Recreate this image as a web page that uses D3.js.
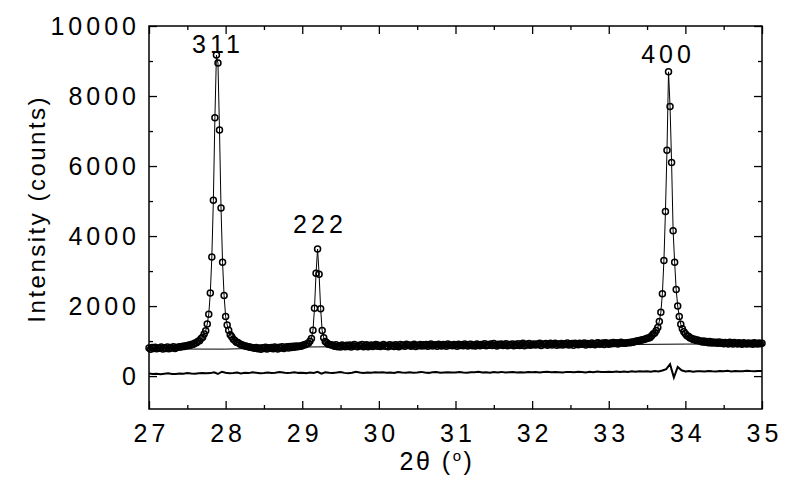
<!DOCTYPE html>
<html><head><meta charset="utf-8">
<script src="https://cdn.jsdelivr.net/npm/d3@7"></script>
<style>
body{margin:0;background:#fff}
text{font-family:"Liberation Sans",Arial,Helvetica,sans-serif;fill:#000}
</style>
</head><body>
<svg id="chart" width="787" height="481"></svg>
<script>
// ---- data ----
const scanStart = 27.0;     // 2θ of first observed point
const scanStep = 0.02;      // 2θ step of the scan
const observedCounts = [
 800, 770, 815, 785, 825, 778, 805, 795, 830, 775,
 812, 790, 828, 780, 818, 800, 835, 788, 815, 826,
 840, 832, 852, 845, 866, 865, 885, 880, 912, 910,
 945, 950, 995, 1010, 1075, 1110, 1205, 1295, 1490, 1770,
 2370, 3400, 5020, 7380, 9170, 8940, 7030, 4800, 3250, 2300,
 1700, 1460, 1310, 1180, 1125, 1050, 1020, 970, 960, 925,
 905, 890, 870, 860, 848, 835, 822, 815, 808, 798,
 820, 780, 805, 770, 812, 790, 825, 775, 808, 795,
 815, 782, 830, 800, 775, 822, 805, 838, 790, 818,
 835, 800, 845, 815, 850, 825, 858, 838, 862, 850,
 870, 895, 892, 925, 940, 998, 1075, 1310, 1940, 2940,
 3630, 2910, 1925, 1300, 1095, 985, 950, 912, 905, 885,
 880, 850, 895, 840, 870, 828, 885, 860, 835, 878,
 845, 890, 832, 868, 900, 850, 838, 882, 858, 905,
 840, 875, 898, 836, 866, 888, 845, 872, 902, 850,
 880, 842, 868, 905, 855, 876, 838, 895, 862, 884,
 848, 892, 870, 838, 904, 866, 885, 850, 912, 872,
 890, 852, 878, 908, 845, 883, 870, 900, 856, 892,
 868, 905, 850, 888, 915, 862, 880, 898, 852, 910,
 876, 860, 902, 885, 850, 918, 872, 890, 864, 905,
 888, 855, 910, 875, 898, 865, 920, 882, 858, 900,
 912, 870, 890, 862, 918, 885, 868, 905, 880, 922,
 865, 900, 884, 915, 872, 930, 890, 862, 908, 886,
 918, 875, 898, 925, 870, 905, 888, 920, 868, 910,
 880, 925, 872, 902, 935, 868, 912, 890, 928, 878,
 905, 920, 885, 915, 895, 938, 872, 918, 900, 930,
 878, 912, 935, 890, 920, 940, 882, 915, 898, 932,
 885, 922, 905, 945, 890, 912, 930, 880, 938, 915,
 895, 935, 910, 925, 948, 888, 930, 915, 905, 942,
 920, 895, 938, 950, 910, 925, 945, 900, 952, 928,
 910, 945, 925, 958, 930, 955, 920, 948, 965, 940,
 945, 938, 952, 960, 955, 972, 968, 985, 995, 1010,
 1018, 1025, 1040, 1048, 1062, 1078, 1090, 1105, 1150, 1200,
 1230, 1300, 1390, 1560, 1820, 2350, 3300, 4700, 6450, 8690,
 7700, 6100, 4150, 3250, 2470, 2000, 1700, 1480, 1350, 1265,
 1210, 1150, 1135, 1090, 1082, 1048, 1050, 1020, 1028, 1000,
 1005, 975, 1000, 965, 990, 955, 985, 948, 975, 945,
 968, 935, 972, 940, 962, 925, 958, 948, 920, 965,
 948, 920, 960, 935, 915, 955, 930, 912, 950, 928,
 915, 948, 925, 940, 910, 952, 928, 918, 945, 925,
 935
];
const residualStart = 27.0;
const residualStep = 0.05;
const residualCounts = [
 75, 60, 70, 55, 68, 80, 62, 58, 75, 70, 85, 72, 65, 80, 90, 78, 85, 110, 60, 125,
 95, 80, 88, 100, 75, 92, 85, 110, 95, 80, 90, 105, 88, 96, 115, 100, 85, 95, 108, 92,
 98, 85, 105, 90, 120, 70, 110, 95, 88, 100, 115, 92, 80, 98, 125, 105, 90, 100, 95, 108,
 100, 112, 95, 105, 90, 118, 102, 95, 110, 98, 105, 120, 100, 92, 108, 115, 98, 105, 112, 100,
 105, 118, 100, 95, 112, 108, 125, 102, 110, 98, 115, 105, 120, 100, 110, 118, 105, 112, 100, 115,
 110, 120, 105, 115, 125, 108, 118, 112, 100, 120, 115, 110, 125, 118, 105, 122, 112, 128, 115, 120,
 125, 118, 130, 115, 128, 120, 135, 125, 140, 130, 138, 125, 145, 130, 160, 200, 340, -40, 260, 165,
 130, 145, 125, 138, 140, 130, 145, 135, 128, 142, 138, 150, 132, 145, 140, 135, 150, 142, 138, 148,
 145
];
const backgroundTheta = [27, 28, 29, 30, 31, 32, 33, 34, 35];
const backgroundCounts = [775, 770, 830, 850, 865, 880, 898, 914, 925];
const xTickValues = [27, 28, 29, 30, 31, 32, 33, 34, 35];
const xMinorTicks = [27.5, 28.5, 29.5, 30.5, 31.5, 32.5, 33.5, 34.5];
const yTickValues = [0, 2000, 4000, 6000, 8000, 10000];
const yMinorTicks = [1000, 3000, 5000, 7000, 9000];
const peakLabels = ["311", "222", "400"];
const peakLabelTheta = [27.874, 29.205, 33.747];
const peakLabelCounts = [9230, 4086, 8943];
const xTitle = "2θ (";
const yTitle = "Intensity (counts)";

// ---- drawing ----
const svg = d3.select("#chart");
const L = 149, R = 762, T = 26, B = 409;
const x = d3.scaleLinear().domain([27, 35]).range([L, R]);
const y = d3.scaleLinear().domain([-940, 10000]).range([B, T]);

const obs = observedCounts.map((c, i) => ({t: scanStart + i * scanStep, c}));
const res = residualCounts.map((c, i) => ({t: residualStart + i * residualStep, c}));
const bg = backgroundTheta.map((t, i) => ({t, c: backgroundCounts[i]}));

const line = d3.line().x(d => x(d.t)).y(d => y(d.c));

svg.append("path").datum(bg).attr("d", line)
  .attr("fill", "none").attr("stroke", "#000").attr("stroke-width", 1);
svg.append("path").datum(obs).attr("d", line)
  .attr("fill", "none").attr("stroke", "#000").attr("stroke-width", 1);
svg.append("g").selectAll("circle").data(obs).join("circle")
  .attr("cx", d => x(d.t)).attr("cy", d => y(d.c)).attr("r", 3)
  .attr("fill", "none").attr("stroke", "#000").attr("stroke-width", 1.5);
svg.append("path").datum(res).attr("d", line)
  .attr("fill", "none").attr("stroke", "#000").attr("stroke-width", 2);

// frame
svg.append("rect").attr("x", L).attr("y", T).attr("width", R - L).attr("height", B - T)
  .attr("fill", "none").attr("stroke", "#000").attr("stroke-width", 1.5);

function styleAxis(g) {
  g.select(".domain").remove();
  g.selectAll(".tick line").attr("stroke", "#000").attr("stroke-width", 1.3);
}
const fs = 25, ls = 4;
// bottom
const gb = svg.append("g").attr("transform", `translate(0,${B})`)
  .call(d3.axisBottom(x).tickValues(xTickValues).tickSize(-8).tickSizeOuter(0).tickPadding(15).tickFormat(d3.format("d")));
styleAxis(gb);
gb.selectAll("text").attr("font-size", fs).attr("letter-spacing", ls).attr("dx", ls / 2)
  .attr("font-family", '"Liberation Sans",Arial,sans-serif').attr("fill", "#000");
svg.append("g").attr("transform", `translate(0,${B})`)
  .call(d3.axisBottom(x).tickValues(xMinorTicks).tickSize(-4).tickSizeOuter(0).tickFormat(""))
  .call(styleAxis);
// top
svg.append("g").attr("transform", `translate(0,${T})`)
  .call(d3.axisTop(x).tickValues(xTickValues).tickSize(-8).tickSizeOuter(0).tickFormat(""))
  .call(styleAxis);
svg.append("g").attr("transform", `translate(0,${T})`)
  .call(d3.axisTop(x).tickValues(xMinorTicks).tickSize(-4).tickSizeOuter(0).tickFormat(""))
  .call(styleAxis);
// left
const gl = svg.append("g").attr("transform", `translate(${L},0)`)
  .call(d3.axisLeft(y).tickValues(yTickValues).tickSize(-8).tickSizeOuter(0).tickPadding(13).tickFormat(d3.format("d")));
styleAxis(gl);
gl.selectAll("text").attr("font-size", fs).attr("letter-spacing", ls).attr("dx", ls)
  .attr("font-family", '"Liberation Sans",Arial,sans-serif').attr("fill", "#000");
svg.append("g").attr("transform", `translate(${L},0)`)
  .call(d3.axisLeft(y).tickValues(yMinorTicks).tickSize(-4).tickSizeOuter(0).tickFormat(""))
  .call(styleAxis);
// right
svg.append("g").attr("transform", `translate(${R},0)`)
  .call(d3.axisRight(y).tickValues(yTickValues).tickSize(-8).tickSizeOuter(0).tickFormat(""))
  .call(styleAxis);
svg.append("g").attr("transform", `translate(${R},0)`)
  .call(d3.axisRight(y).tickValues(yMinorTicks).tickSize(-4).tickSizeOuter(0).tickFormat(""))
  .call(styleAxis);

// peak labels
svg.append("g").selectAll("text").data(peakLabels).join("text")
  .attr("x", (d, i) => x(peakLabelTheta[i]) + ls / 2)
  .attr("y", (d, i) => y(peakLabelCounts[i]))
  .attr("text-anchor", "middle").attr("font-size", fs).attr("letter-spacing", ls)
  .text(d => d);

// axis titles
const xt = svg.append("text").attr("x", 437).attr("y", 470).attr("text-anchor", "middle")
  .attr("font-size", fs).attr("letter-spacing", 2.5);
xt.append("tspan").text(xTitle);
xt.append("tspan").attr("font-size", 15).attr("dy", -9).text("o");
xt.append("tspan").attr("dy", 9).text(")");

svg.append("text").attr("transform", "translate(45,210) rotate(-90)")
  .attr("text-anchor", "middle").attr("font-size", 24).attr("letter-spacing", 2.5).attr("dx", 1.25)
  .text(yTitle);
</script>
</body></html>
